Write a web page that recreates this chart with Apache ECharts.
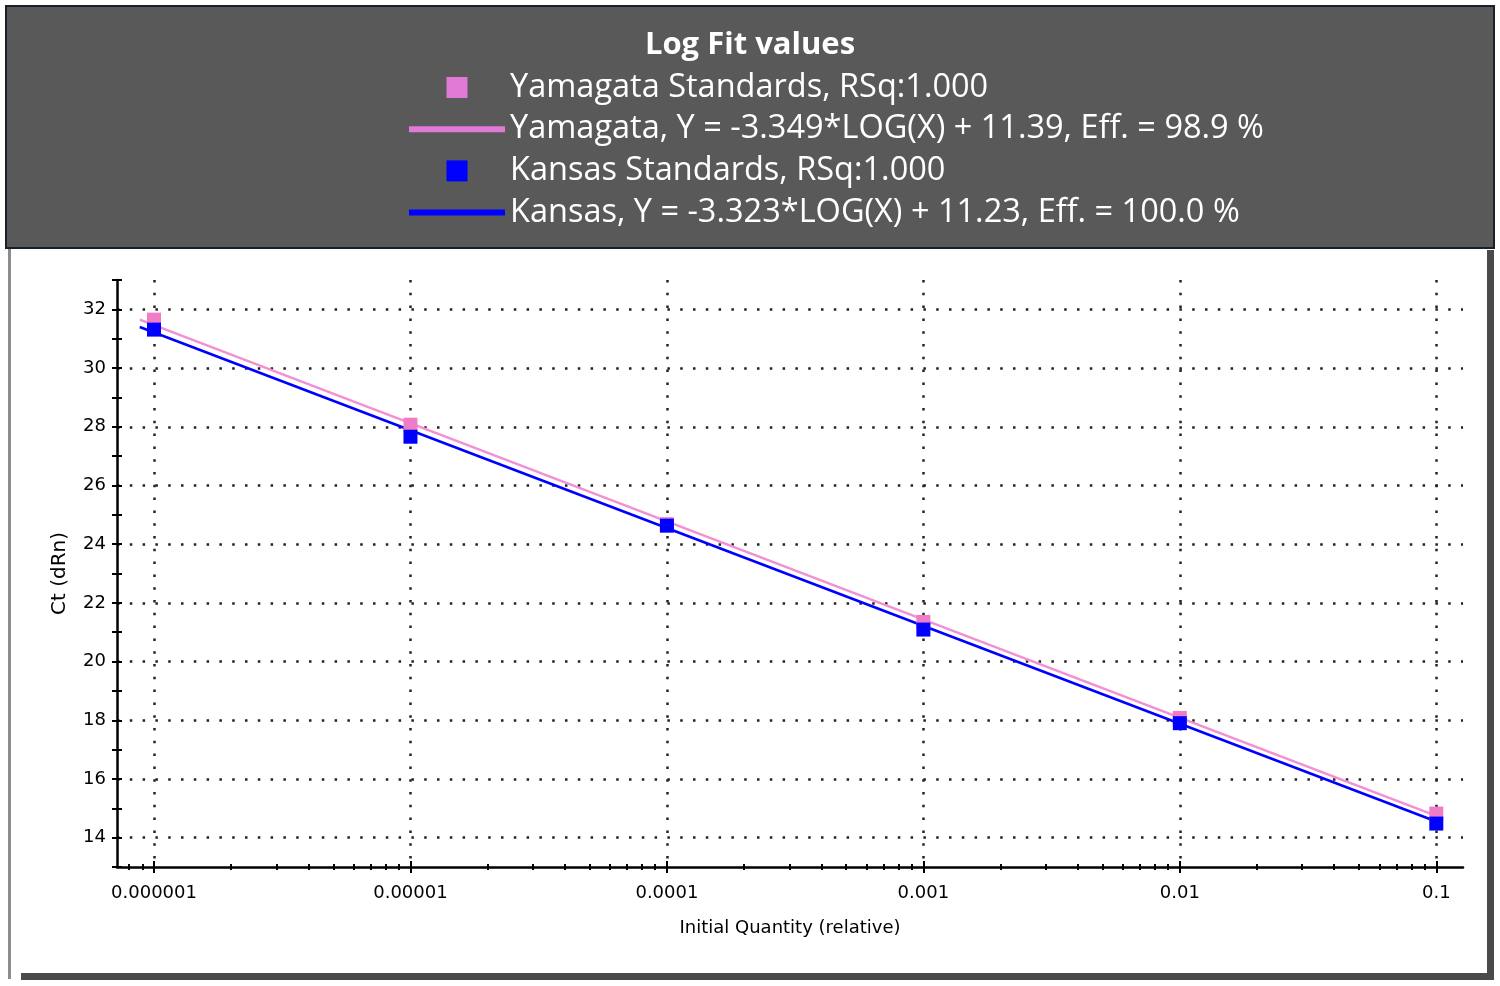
<!DOCTYPE html>
<html><head><meta charset="utf-8">
<script src="https://cdn.jsdelivr.net/npm/echarts@6/dist/echarts.min.js"></script>
<style>html,body{margin:0;padding:0;background:#fff}#c{width:1500px;height:986px}</style>
</head><body><div id="c"></div>
<script>
// ---- data ----
const quantities = [0.000001, 0.00001, 0.0001, 0.001, 0.01, 0.1];
const yamagataCt = [31.65, 28.07, 24.68, 21.35, 18.08, 14.82];
const kansasCt = [31.31, 27.66, 24.63, 21.09, 17.90, 14.48];
const fitQuantities = [0.00000088, 0.1];
const yamagataFitCt = [31.65, 14.74];
const kansasFitCt = [31.40, 14.55];
const seriesNames = [
  'Yamagata Standards, RSq:1.000',
  'Yamagata, Y = -3.349*LOG(X) + 11.39, Eff. = 98.9 %',
  'Kansas Standards, RSq:1.000',
  'Kansas, Y = -3.323*LOG(X) + 11.23, Eff. = 100.0 %'
];
const xTickValues = [0.000001, 0.00001, 0.0001, 0.001, 0.01, 0.1];
const xTickLabels = ['0.000001', '0.00001', '0.0001', '0.001', '0.01', '0.1'];
const xMinorDecades = [0.0000001, 0.000001, 0.00001, 0.0001, 0.001, 0.01];
const xMinorSteps = [2, 3, 4, 5, 6, 7, 8, 9];
const yLabelTicks = [14, 16, 18, 20, 22, 24, 26, 28, 30, 32];
const xRange = [0.0000007173, 0.1271];
const yRange = [13, 33];

const xMinorValues = [];
xMinorDecades.forEach(d => xMinorSteps.forEach(s => xMinorValues.push(d * s)));

const PINK = '#f07cc8', PINK_LINE = '#f290d2', PINK_LEG = '#e07ad6', BLUE = '#0000ff';
const labelFont = 'DejaVu Sans';
const GRID_DOTS = { color: '#222', width: 2.5, type: [2.5, 10.3] };

function xAxisBase(extra) {
  return Object.assign({
    type: 'log', logBase: 10, min: xRange[0], max: xRange[1], position: 'bottom',
    axisLine: { show: false }, axisLabel: { show: false }, splitLine: { show: false },
    axisPointer: { show: false }
  }, extra);
}
function yAxisBase(extra) {
  return Object.assign({
    type: 'value', min: yRange[0], max: yRange[1], interval: 1, position: 'left',
    axisLine: { show: false }, axisLabel: { show: false }, splitLine: { show: false }
  }, extra);
}

const chart = echarts.init(document.getElementById('c'), null, { renderer: 'canvas' });
chart.setOption({
  backgroundColor: '#ffffff',
  animation: false,
  graphic: [
    { type: 'rect', z: -10, shape: { x: 6, y: 6, width: 1488, height: 242 },
      style: { fill: '#595959', stroke: '#17202b', lineWidth: 2 } },
    { type: 'rect', z: -10, shape: { x: 8, y: 249, width: 3, height: 730 }, style: { fill: '#8c8c8c' } },
    { type: 'rect', z: -10, shape: { x: 21, y: 973, width: 1473, height: 7 }, style: { fill: '#4a4a4a' } },
    { type: 'rect', z: -10, shape: { x: 1487, y: 250, width: 7, height: 730 }, style: { fill: '#4a4a4a' } }
  ],
  title: {
    text: 'Log Fit values', left: 'center', top: 25,
    textStyle: { color: '#ffffff', fontFamily: 'Open Sans', fontWeight: 'bold', fontSize: 31 }
  },
  legend: {
    orient: 'vertical', left: 409, top: 71, padding: 0,
    itemWidth: 96, itemHeight: 21, itemGap: 8.7,
    selectedMode: false,
    textStyle: { color: '#ffffff', fontFamily: 'Open Sans', fontSize: 32.5, lineHeight: 32 },
    itemStyle: { borderWidth: 0 },
    data: [
      { name: seriesNames[0], icon: 'path://M0 0H10V10H0Z', itemStyle: { color: PINK_LEG } },
      { name: seriesNames[1], icon: 'path://M0 0H96V6H0Z', itemStyle: { color: PINK_LEG } },
      { name: seriesNames[2], icon: 'path://M0 0H10V10H0Z', itemStyle: { color: BLUE } },
      { name: seriesNames[3], icon: 'path://M0 0H96V6H0Z', itemStyle: { color: BLUE } }
    ]
  },
  grid: { left: 117, right: 37, top: 280, bottom: 119, containLabel: false },
  xAxis: [
    xAxisBase({
      axisLine: { show: true, lineStyle: { color: '#000', width: 2.5 } },
      axisTick: { show: true, customValues: xTickValues, length: 6, lineStyle: { color: '#000', width: 2 } },
      axisLabel: {
        show: true, customValues: xTickValues, margin: 17, color: '#000',
        fontFamily: labelFont, fontSize: 18,
        formatter: v => xTickLabels[xTickValues.findIndex(t => Math.abs(Math.log10(t) - Math.log10(v)) < 0.01)] || ''
      },
      splitLine: { show: true, lineStyle: GRID_DOTS },
      name: 'Initial Quantity (relative)', nameLocation: 'middle', nameGap: 52,
      nameTextStyle: { color: '#000', fontFamily: labelFont, fontSize: 18 }
    }),
    xAxisBase({ axisTick: { show: true, inside: true, customValues: xTickValues, length: 6, lineStyle: { color: '#000', width: 2 } } }),
    xAxisBase({ axisTick: { show: true, customValues: xMinorValues, length: 3, lineStyle: { color: '#000', width: 2 } } }),
    xAxisBase({ axisTick: { show: true, inside: true, customValues: xMinorValues, length: 3, lineStyle: { color: '#000', width: 2 } } })
  ],
  yAxis: [
    yAxisBase({
      axisLine: { show: true, lineStyle: { color: '#000', width: 2.5 } },
      axisTick: { show: true, length: 5, lineStyle: { color: '#000', width: 2 } },
      axisLabel: { show: true, customValues: yLabelTicks, margin: 11, color: '#000', fontFamily: labelFont, fontSize: 18 },
      name: 'Ct (dRn)', nameLocation: 'middle', nameGap: 47,
      nameTextStyle: { color: '#000', fontFamily: labelFont, fontSize: 20 }
    }),
    yAxisBase({ axisTick: { show: true, inside: true, length: 5, lineStyle: { color: '#000', width: 2 } } }),
    yAxisBase({
      axisTick: { show: false, customValues: yLabelTicks },
      splitLine: { show: true, lineStyle: GRID_DOTS }
    })
  ],
  series: [
    {
      name: seriesNames[0], type: 'scatter', xAxisIndex: 0, yAxisIndex: 0, z: 3,
      symbol: 'rect', symbolSize: 14, itemStyle: { color: PINK, opacity: 1 },
      data: quantities.map((q, i) => [q, yamagataCt[i]])
    },
    {
      name: seriesNames[1], type: 'line', xAxisIndex: 0, yAxisIndex: 0, z: 2,
      symbol: 'none', showSymbol: false, lineStyle: { color: PINK_LINE, width: 2.5 }, itemStyle: { color: PINK_LINE },
      data: fitQuantities.map((q, i) => [q, yamagataFitCt[i]])
    },
    {
      name: seriesNames[2], type: 'scatter', xAxisIndex: 0, yAxisIndex: 0, z: 4,
      symbol: 'rect', symbolSize: 14, itemStyle: { color: BLUE, opacity: 1 },
      data: quantities.map((q, i) => [q, kansasCt[i]])
    },
    {
      name: seriesNames[3], type: 'line', xAxisIndex: 0, yAxisIndex: 0, z: 2,
      symbol: 'none', showSymbol: false, lineStyle: { color: BLUE, width: 2.5 }, itemStyle: { color: BLUE },
      data: fitQuantities.map((q, i) => [q, kansasFitCt[i]])
    }
  ]
});
</script>
</body></html>
